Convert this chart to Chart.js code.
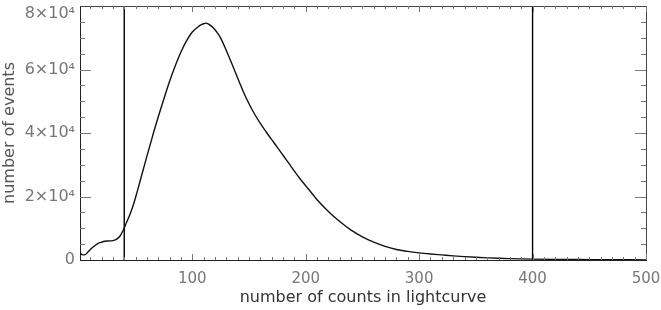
<!DOCTYPE html>
<html>
<head>
<meta charset="utf-8">
<script src="https://cdn.jsdelivr.net/npm/chart.js@4/dist/chart.umd.min.js"></script>
<style>
  html, body { margin: 0; padding: 0; background: #fff; }
  #wrap { width: 661px; height: 310px; }
</style>
</head>
<body>
<div id="wrap"><canvas id="histChart" width="661" height="310"></canvas></div>
<script>
// counts in lightcurve (x) and number of events (y)
const counts = [1, 3, 5, 8, 11, 14, 17, 20, 23, 26, 30, 33, 36, 39, 42, 45, 48, 51, 54, 57,
  60, 63, 66, 70, 75, 80, 85, 90, 95, 100, 105, 108, 110, 112, 114, 116, 118, 120, 122, 125,
  130, 135, 140, 145, 150, 155, 160, 165, 170, 175, 180, 185, 190, 195, 200, 207, 210, 220, 230, 240,
  250, 260, 270, 280, 290, 300, 310, 320, 330, 340, 350, 360, 370, 380, 390, 400, 420, 440, 460, 480, 500];
const events = [2300, 1700, 1600, 2500, 3600, 4500, 5200, 5600, 5900, 6000, 6100, 6500, 7400, 9300, 11800, 14300, 17300, 21000, 24900, 28800,
  32700, 36500, 40300, 45100, 50800, 56300, 61200, 65500, 69100, 71800, 73400, 74100, 74400, 74600, 74400, 73900, 73300, 72500, 71600, 69900,
  66000, 61700, 57300, 53000, 49200, 45900, 43000, 40400, 37900, 35500, 33000, 30500, 28000, 25600, 23400, 20300, 19000, 15300, 12100, 9400,
  7300, 5600, 4300, 3300, 2700, 2250, 1900, 1600, 1300, 1050, 850, 680, 530, 430, 350, 290, 200, 140, 100, 70, 50];

// vertical marker lines
const cutLow = 40;
const cutHigh = 400;

const xTicks = [100, 200, 300, 400, 500];
const yTicks = [0, 20000, 40000, 60000, 80000];
// top label pushed down one half line so it stays inside, as in the original
const yTickLabels = ['0', '2×10⁴', '4×10⁴', '6×10⁴', ['', '8×10⁴']];

const curve = counts.map((c, i) => ({ x: c, y: events[i] }));

// inward ticks on all four sides, like the original plot
const boxTicks = {
  id: 'boxTicks',
  afterDraw(chart) {
    const ctx = chart.ctx;
    const area = chart.chartArea;
    const xs = chart.scales.x;
    const ys = chart.scales.y;
    ctx.save();
    ctx.strokeStyle = '#444';
    ctx.lineWidth = 1;
    ctx.beginPath();
    ctx.moveTo(area.left, area.top + 0.5);
    ctx.lineTo(area.right + 0.5, area.top + 0.5);
    ctx.lineTo(area.right + 0.5, area.bottom);
    ctx.stroke();

    ctx.strokeStyle = '#777';
    ctx.beginPath();
    for (let v = 10; v <= 500; v += 10) {
      const px = Math.round(xs.getPixelForValue(v)) + 0.5;
      const len = v % 100 === 0 ? 6 : 3;
      ctx.moveTo(px, area.bottom);
      ctx.lineTo(px, area.bottom - len);
      ctx.moveTo(px, area.top);
      ctx.lineTo(px, area.top + len);
    }
    for (let v = 5000; v < 80000; v += 5000) {
      const py = Math.round(ys.getPixelForValue(v)) + 0.5;
      const len = v % 20000 === 0 ? 11 : 5;
      ctx.moveTo(area.left, py);
      ctx.lineTo(area.left + len, py);
      ctx.moveTo(area.right, py);
      ctx.lineTo(area.right - len, py);
    }
    ctx.stroke();
    ctx.restore();
  }
};

const ctx = document.getElementById('histChart').getContext('2d');
new Chart(ctx, {
  type: 'scatter',
  data: {
    datasets: [
      {
        data: curve,
        showLine: true,
        borderColor: '#111',
        borderWidth: 1.4,
        pointRadius: 0,
        cubicInterpolationMode: 'monotone'
      },
      {
        data: [{ x: cutLow, y: 0 }, { x: cutLow, y: 80000 }],
        showLine: true,
        borderColor: '#000',
        borderWidth: 1.4,
        pointRadius: 0
      },
      {
        data: [{ x: cutHigh, y: 0 }, { x: cutHigh, y: 80000 }],
        showLine: true,
        borderColor: '#000',
        borderWidth: 1.4,
        pointRadius: 0
      }
    ]
  },
  options: {
    responsive: false,
    animation: false,
    layout: { padding: 0 },
    plugins: {
      legend: { display: false },
      tooltip: { enabled: false }
    },
    scales: {
      x: {
        type: 'linear',
        min: 1,
        max: 500,
        afterBuildTicks: axis => { axis.ticks = xTicks.map(v => ({ value: v })); },
        afterFit: axis => {
          axis.height = 50;
          axis.paddingLeft = 0;
          axis.paddingRight = 15;
        },
        grid: { display: false, drawTicks: false },
        border: { display: true, color: '#222', width: 1 },
        ticks: {
          padding: 10,
          maxRotation: 0,
          color: '#777',
          font: { family: 'DejaVu Sans', size: 15 }
        },
        title: {
          display: true,
          text: 'number of counts in lightcurve',
          color: '#333',
          font: { family: 'DejaVu Sans', size: 16 },
          padding: { top: 0, bottom: 3 }
        }
      },
      y: {
        min: 0,
        max: 80000,
        afterBuildTicks: axis => { axis.ticks = yTicks.map(v => ({ value: v })); },
        afterFit: axis => {
          axis.width = 80;
          axis.paddingTop = 6;
          axis.paddingBottom = 0;
        },
        grid: { display: false, drawTicks: false },
        border: { display: true, color: '#222', width: 1 },
        ticks: {
          padding: 5,
          color: '#777',
          font: { family: 'DejaVu Sans', size: 16, lineHeight: 1.0 },
          callback: (v) => yTickLabels[yTicks.indexOf(v)]
        },
        title: {
          display: true,
          text: 'number of events',
          color: '#555',
          font: { family: 'DejaVu Sans', size: 16 },
          padding: { top: 0, bottom: 0 }
        }
      }
    }
  },
  plugins: [boxTicks]
});
</script>
</body>
</html>
